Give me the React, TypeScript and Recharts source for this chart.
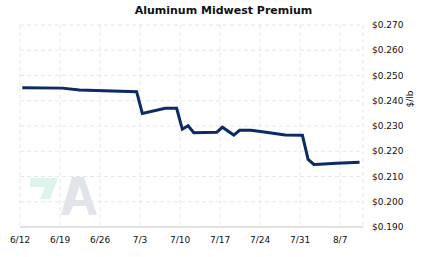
import { LineChart, Line, XAxis, YAxis, CartesianGrid } from "recharts";

const dates = [
  "6/12", "6/19", "6/22", "7/2", "7/3", "7/7", "7/9", "7/10", "7/11", "7/12",
  "7/16", "7/17", "7/19", "7/20", "7/22", "7/24", "7/28", "7/31", "8/1", "8/2",
  "8/3", "8/6", "8/10",
];
const prices = [
  0.2451, 0.245, 0.2443, 0.2436, 0.235, 0.237, 0.237, 0.2287, 0.2301, 0.2273,
  0.2275, 0.2295, 0.2264, 0.2283, 0.2283, 0.2277, 0.2264, 0.2263, 0.2168, 0.2148,
  0.2149, 0.2152, 0.2156,
];
const xTickLabels = ["6/12", "6/19", "6/26", "7/3", "7/10", "7/17", "7/24", "7/31", "8/7"];
const yTicks = [0.19, 0.2, 0.21, 0.22, 0.23, 0.24, 0.25, 0.26, 0.27];

// days counted from 6/12 (June has 30 days)
const dayOf = (md: string) => {
  const [m, d] = md.split("/").map(Number);
  return m === 6 ? d - 12 : m === 7 ? 18 + d : 49 + d;
};

// prices are stamped at midday
const data = dates.map((d, i) => ({ t: dayOf(d) + 0.4, price: prices[i] }));
const xTicks = xTickLabels.map(dayOf);
const labelFor = (v: number) => xTickLabels[xTicks.indexOf(v)] ?? "";

const font = "DejaVu Sans";
const tickStyle = { fontFamily: font, fontSize: 9, fill: "#111" };

export default function App() {
  return (
    <div style={{ position: "absolute", left: 0, top: 0, width: 423, height: 257, background: "#fff" }}>
      {/* watermark + unit label */}
      <svg width={423} height={257} style={{ position: "absolute", left: 0, top: 0 }}>
        <polygon points="30,178 58,178 50,199 40,199 45,187 30,187" fill="#dcf4ea" />
        <path
          d="M61,215 L72,177 L84,177 L97,215 L89,215 L86,206 L73,206 L69,215 Z M75,200 L84,200 L79.5,186 Z"
          fill="#e1e4ea"
          fillRule="evenodd"
        />
        <text
          x={0}
          y={0}
          transform="translate(413,99) rotate(-90)"
          textAnchor="middle"
          fontFamily={font}
          fontSize={9}
          fill="#111"
        >
          $/lb
        </text>
      </svg>
      <div
        style={{
          position: "absolute",
          top: 4,
          left: 0,
          width: 447,
          textAlign: "center",
          fontFamily: font,
          fontWeight: "bold",
          fontSize: 11,
          color: "#111",
        }}
      >
        Aluminum Midwest Premium
      </div>
      <LineChart
        width={423}
        height={257}
        data={data}
        margin={{ top: 25, right: 0, left: 20, bottom: 0 }}
        style={{ position: "absolute", left: 0, top: 0 }}
      >
        <CartesianGrid stroke="#e6e6e6" strokeDasharray="4 3" />
        <XAxis
          dataKey="t"
          type="number"
          domain={[0, 60]}
          ticks={xTicks}
          tickFormatter={labelFor}
          height={30}
          tickLine={false}
          axisLine={{ stroke: "#e2e2e2", strokeWidth: 2 }}
          tickMargin={4}
          tick={tickStyle}
          interval={0}
        />
        <YAxis
          orientation="right"
          domain={[0.19, 0.27]}
          ticks={yTicks}
          tickFormatter={(v: number) => "$" + v.toFixed(3)}
          width={60}
          tickLine={false}
          axisLine={false}
          tickMargin={3}
          tick={tickStyle}
          interval={0}
        />
        <Line
          type="linear"
          dataKey="price"
          stroke="#0b2b62"
          strokeWidth={3}
          dot={false}
          isAnimationActive={false}
        />
      </LineChart>
    </div>
  );
}
